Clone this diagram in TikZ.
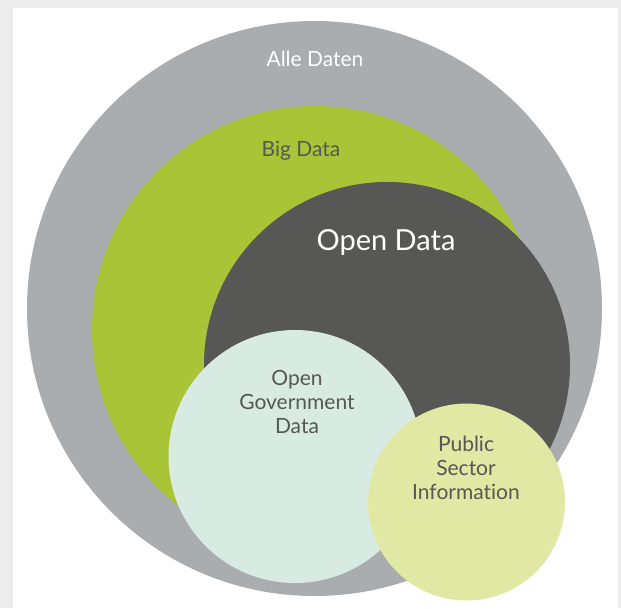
\documentclass[tikz,border=0pt]{standalone}
\usepackage{fontspec}
\setmainfont[Ligatures=NoCommon]{Lato}
\definecolor{pagegray}{HTML}{ECECEC}
\definecolor{allgray}{HTML}{AAADB0}
\definecolor{biggreen}{HTML}{A9C436}
\definecolor{opendark}{HTML}{575756}
\definecolor{govmint}{HTML}{D7EBE3}
\definecolor{psilime}{HTML}{E1E8A3}
\definecolor{txtgray}{HTML}{575756}

\begin{document}
\begin{tikzpicture}[x=1pt,y=-1pt,
  blob/.style={circle,inner sep=0pt,minimum size=#1},
  lbl/.style={font=\fontsize{21}{24}\selectfont,align=center,anchor=base,inner sep=0pt,text=txtgray}]

  % frame
  \fill[pagegray] (0,0) rectangle (621,608);
  \fill[white] (13,8) rectangle (618,608);
  \useasboundingbox (0,0) rectangle (621,608);

  % sets, largest first
  \node[blob=575pt,fill=allgray]  (alle) at (314.5,308.5) {};
  \node[blob=447pt,fill=biggreen] (big)  at (315.5,329.5) {};
  \node[blob=366pt,fill=opendark] (open) at (387,365) {};
  \node[blob=253pt,fill=govmint]  (gov)  at (295,456.5) {};
  \node[blob=197pt,fill=psilime]  (psi)  at (466.5,502) {};

  % labels (base = last line)
  \node[lbl,text=white] (allelbl) at (315,66) {Alle Daten};
  \node[lbl] (biglbl) at (301,156) {Big Data};
  \node[lbl,text=white,font=\fontsize{29}{32}\selectfont] (openlbl) at (386,250) {Open Data};
  \node[lbl] (govlbl) at (297,433) {Open\\Government\\Data};
  \node[lbl] (psilbl) at (466,499) {Public\\Sector\\Information};

\end{tikzpicture}
\end{document}
